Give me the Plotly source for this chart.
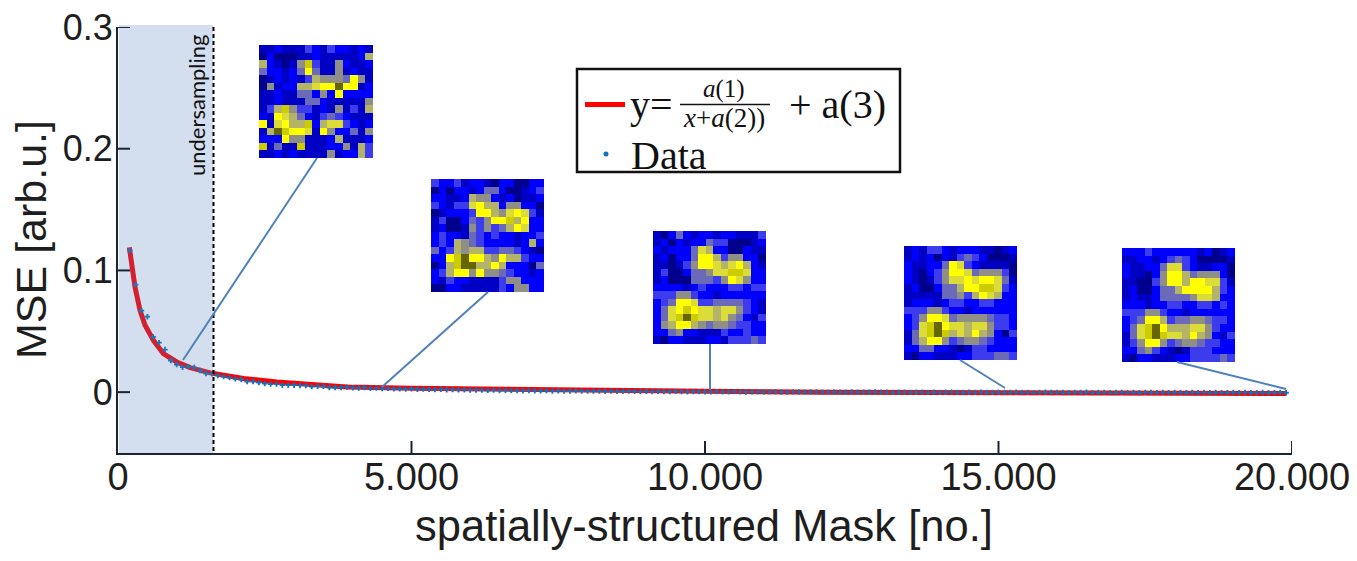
import plotly.graph_objects as go

x_ticks = [0, 5000, 10000, 15000, 20000]
x_tick_labels = ["0", "5.000", "10.000", "15.000", "20.000"]
y_ticks = [0, 0.1, 0.2, 0.3]
y_tick_labels = ["0", "0.1", "0.2", "0.3"]

fit_x = [193, 233, 290, 375, 461, 603, 773, 1001, 1229, 1570, 2138, 2708, 3276, 3902, 5000, 7000, 10000, 12000, 15000, 17500, 19900]
fit_y = [0.119, 0.1027, 0.0863, 0.0672, 0.0549, 0.0426, 0.0317, 0.0248, 0.0202, 0.0158, 0.0112, 0.0084, 0.0063, 0.0043, 0.0033, 0.002, 0.0007, 0.0, -0.0006, -0.0011, -0.0012]

data_x = list(range(200, 20000, 100))
data_y = [
    .1164, .0883, .0670, .0620, .0454, .0407, .0350, .0260, .0227, .0205, .0210, .0202, .0178, .0153, .0150, .0137, .0128, .0120,
    .0109, .0104, .0087, .0087, .0079, .0071, .0066, .0066, .0057, .0057, .0057, .0055, .0055, .0046, .0049, .0049, .0038, .0038, .0038, .0041,
    .0036, .0034, .0038, .0031, .0033, .0029, .0031, .0027, .0028, .0025, .0028, .0024, .0025, .0023, .0021, .0024, .0020, .0021, .0019, .0020, .0018,
    .0018, .0017, .0015, .0017, .0014, .0016, .0013, .0014, .0012, .0014, .0012, .0011, .0013, .0010, .0011, .0010, .0009, .0011, .0009, .0008,
    .0009, .0008, .0007, .0009, .0006, .0007, .0008, .0006, .0005, .0007, .0005, .0006, .0004, .0005, .0006, .0004, .0003, .0005, .0004, .0003,
    .0003, .0004, .0002, .0003, .0004, .0002, .0001, .0003, .0002, .0001, .0002, .0003, .0001, 0, .0002, .0001, 0, .0001, .0002, 0,
    0, .0001, -.0001, 0, .0001, -.0001, 0, -.0001, .0001, -.0001, 0, -.0002, -.0001, 0, -.0002, -.0001, 0, -.0002, -.0001, -.0002,
    -.0001, 0, -.0002, -.0003, -.0001, -.0002, 0, -.0003, -.0002, -.0001, -.0003, -.0002, -.0001, -.0003, -.0002, -.0004, -.0002, -.0001, -.0003, -.0002,
    -.0003, -.0004, -.0002, -.0003, -.0001, -.0004, -.0003, -.0002, -.0004, -.0003, -.0002, -.0004, -.0003, -.0005, -.0002, -.0003, -.0004, -.0002, -.0004, -.0003,
    -.0004, -.0005, -.0003, -.0004, -.0002, -.0005, -.0003, -.0004, -.0005, -.0003, -.0004, -.0002, -.0005, -.0004, -.0003, -.0005, -.0004, -.0003, -.0005,
]

mask_a = [
    [1,1,2,1,1,1,3,2,1,3,2,2,1,2,1],
    [0,2,0,0,0,1,1,2,1,1,1,1,1,2,6],
    [6,2,1,0,1,5,9,3,1,1,5,2,1,1,2],
    [4,2,2,1,2,4,8,4,1,1,5,1,2,1,1],
    [0,1,2,1,2,1,3,6,5,5,5,4,8,5,1],
    [0,5,1,2,2,6,6,7,8,8,10,8,8,1,2],
    [1,1,2,1,1,4,4,2,5,2,8,2,2,2,2],
    [1,1,2,1,1,1,4,4,2,1,1,1,1,1,5],
    [1,3,6,9,5,3,3,1,2,1,5,1,3,1,6],
    [2,1,8,7,6,4,2,1,3,4,3,2,1,1,1],
    [8,1,7,8,6,6,9,2,6,7,7,3,2,1,2],
    [1,6,10,9,8,8,7,1,8,5,2,2,4,1,5],
    [2,2,2,8,5,5,1,1,1,2,6,1,1,1,2],
    [9,1,4,1,1,9,1,1,1,2,2,5,1,6,3],
    [1,1,2,1,2,1,1,1,1,5,1,2,2,6,3],
]
mask_b = [
    [3,2,2,3,1,2,2,1,0,2,2,0,0,2,2],
    [0,2,0,2,2,1,2,4,4,2,0,0,1,2,3],
    [2,2,1,1,2,6,5,5,2,1,2,0,1,1,2],
    [3,2,1,3,3,7,8,6,6,2,5,5,2,2,0],
    [0,1,2,2,2,3,8,8,6,5,7,8,7,3,1],
    [1,3,0,0,2,4,3,5,8,8,9,6,8,2,2],
    [1,2,0,0,1,5,3,5,3,4,6,8,7,2,2],
    [2,3,2,2,1,4,3,2,3,2,2,1,2,2,3],
    [2,3,2,6,5,4,3,2,2,2,2,1,2,6,2],
    [4,2,3,6,5,6,6,3,3,4,4,3,2,1,0],
    [2,2,8,9,10,8,8,6,5,8,6,6,3,2,2],
    [0,2,6,9,10,10,6,6,8,6,2,2,2,0,4],
    [2,3,6,8,8,5,8,5,5,4,3,2,2,1,2],
    [2,1,3,2,2,1,1,1,1,3,5,5,2,2,2],
    [0,0,2,2,1,1,1,1,1,3,2,5,5,2,2],
]
mask_c = [
    [1,0,2,4,2,1,2,2,1,2,2,1,1,1,3],
    [1,2,0,2,1,2,2,4,3,3,0,0,0,1,2],
    [2,1,2,2,2,4,7,6,2,2,0,0,2,1,1],
    [1,2,0,2,2,4,8,8,6,3,5,5,2,2,0],
    [1,1,0,1,3,5,8,8,7,6,7,8,6,2,1],
    [1,3,0,0,2,4,4,5,7,7,9,9,7,2,2],
    [1,2,0,0,0,4,4,4,3,5,8,7,5,2,2],
    [2,2,2,2,1,2,3,2,2,2,3,3,2,3,3],
    [3,3,3,5,5,3,2,2,1,2,2,2,2,2,2],
    [2,3,4,8,8,7,3,3,4,4,4,4,3,2,1],
    [2,4,7,8,9,8,7,7,6,7,7,5,3,2,1],
    [2,4,7,9,10,9,7,7,6,7,5,4,2,1,3],
    [2,5,6,8,8,6,5,4,5,5,4,3,3,2,2],
    [2,2,4,5,2,2,1,1,1,3,2,2,3,2,2],
    [1,0,2,2,1,1,1,2,2,1,3,3,3,4,3],
]
mask_d = [
    [1,2,1,3,3,2,1,2,2,2,1,1,0,1,2],
    [1,2,1,2,0,2,1,3,4,3,2,0,0,0,1],
    [2,1,1,2,2,4,8,7,3,2,1,1,1,1,0],
    [2,1,0,2,3,5,8,8,7,4,5,5,5,3,0],
    [2,1,0,1,3,5,7,7,8,7,8,8,7,4,1],
    [1,2,0,0,2,4,4,6,8,8,9,9,7,3,2],
    [1,1,1,1,1,4,4,5,3,6,8,7,6,2,2],
    [1,2,2,2,1,2,3,3,2,2,3,3,2,2,2],
    [3,3,3,5,5,3,2,2,1,2,2,2,2,2,2],
    [2,3,5,8,8,7,4,5,5,5,5,4,3,3,2],
    [2,3,7,9,10,8,7,7,6,7,7,5,3,3,2],
    [1,4,7,9,10,9,6,7,6,8,6,5,2,0,3],
    [1,4,6,8,8,5,3,4,5,5,4,3,2,2,2],
    [2,2,4,4,2,2,1,0,1,3,3,2,2,2,2],
    [1,0,2,2,1,1,1,2,2,3,3,3,4,4,3],
]
mask_e = [
    [2,2,2,3,2,2,2,2,2,2,1,2,0,1,2],
    [1,1,2,2,1,2,3,4,3,2,0,0,0,0,1],
    [2,1,1,2,2,4,7,7,3,2,1,1,2,2,0],
    [2,1,1,0,2,5,8,8,6,4,5,5,5,2,0],
    [1,1,0,0,3,5,8,8,6,8,8,7,7,3,1],
    [1,2,0,0,2,4,4,6,8,8,8,8,6,3,2],
    [1,2,1,1,2,4,4,4,4,5,7,7,6,2,2],
    [2,2,2,1,2,2,3,3,2,2,3,3,2,3,2],
    [3,3,3,5,5,3,2,2,1,2,2,2,2,2,2],
    [2,3,4,8,8,6,3,4,4,5,5,4,3,3,2],
    [2,4,7,9,10,8,6,6,6,7,7,5,3,2,2],
    [1,4,7,9,10,9,7,7,6,8,6,5,2,1,3],
    [1,3,5,8,8,5,3,4,5,5,4,3,3,2,2],
    [2,2,4,5,3,2,1,0,1,3,3,3,2,2,2],
    [1,0,2,2,1,1,1,2,2,3,3,3,3,4,3],
]
masks = [mask_a, mask_b, mask_c, mask_d, mask_e]

W, H = 1357, 561
L, R, T, B = 118, 1292, 27, 453
OFF = 8  # default page margin of the browser
TICK = 12
def px(v): return (v - L) / (R - L)
def py(v): return (B - v) / (B - T)

colors = ["#00008c", "#0000c4", "#0000ff", "#3c3cee", "#6a6ab8", "#8f8f88",
          "#b4b468", "#dcdc38", "#ffff00", "#cccc00", "#666600"]
colorscale = [[i / 10, c] for i, c in enumerate(colors)]

inset_boxes = [(259, 373, 45, 158), (431, 544, 179, 292), (653, 766, 231, 344),
               (904, 1017, 246, 360), (1122, 1235, 248, 362)]
connectors = [(317, 158, 183, 360), (488, 292, 382, 387), (710, 344, 710, 390),
              (960, 360, 1005, 388), (1177, 362, 1286, 389)]

INK = "#1e1e1e"
AXIS = "#1a2433"
fig = go.Figure()
fig.add_trace(go.Scatter(x=fit_x, y=fit_y, mode="lines", line=dict(color="#ff0000", width=5), showlegend=False))
fig.add_trace(go.Scatter(x=data_x, y=data_y, mode="markers",
                         marker=dict(color="#0f72ba", size=4.5, symbol="cross", line_width=0), showlegend=False))

layout_axes = {}
for i, (m, (x0, x1, y0, y1)) in enumerate(zip(masks, inset_boxes), start=2):
    fig.add_trace(go.Heatmap(z=m, zmin=0, zmax=10, colorscale=colorscale, showscale=False,
                             xaxis=f"x{i}", yaxis=f"y{i}", hoverinfo="skip"))
    layout_axes[f"xaxis{i}"] = dict(domain=[px(x0), px(x1)], visible=False, anchor=f"y{i}")
    layout_axes[f"yaxis{i}"] = dict(domain=[py(y1), py(y0)], visible=False, autorange="reversed", anchor=f"x{i}")

shapes = [
    dict(type="rect", xref="paper", yref="paper", x0=px(119), x1=px(213), y0=py(25), y1=py(453),
         fillcolor="rgba(79,129,189,0.25)", line_width=0, layer="above"),
    dict(type="line", xref="paper", yref="paper", x0=px(213.5), x1=px(213.5), y0=py(27), y1=py(453),
         line=dict(color="#000000", width=2, dash="4px,3px"), layer="above"),
]
for v in x_ticks[1:]:
    shapes.append(dict(type="line", xref="x", yref="paper", x0=v, x1=v, y0=0, y1=TICK / (B - T),
                       line=dict(color=AXIS, width=2), layer="above"))
for v in y_ticks:
    shapes.append(dict(type="line", xref="paper", yref="y", x0=0, x1=TICK / (R - L), y0=v, y1=v,
                       line=dict(color=AXIS, width=2), layer="above"))
for (a, b, c, d) in connectors:
    shapes.append(dict(type="line", xref="paper", yref="paper", x0=px(a), y0=py(b), x1=px(c), y1=py(d),
                       line=dict(color="#4f81bd", width=2), layer="above"))
shapes += [
    dict(type="rect", xref="paper", yref="paper", x0=px(577), x1=px(900), y0=py(69), y1=py(172),
         fillcolor="#ffffff", line=dict(color="#111111", width=2.5), layer="above"),
    dict(type="line", xref="paper", yref="paper", x0=px(585), x1=px(625), y0=py(104.5), y1=py(104.5),
         line=dict(color="#ff0000", width=5), layer="above"),
    dict(type="line", xref="paper", yref="paper", x0=px(680), x1=px(770), y0=py(104.5), y1=py(104.5),
         line=dict(color="#111111", width=1.5), layer="above"),
    dict(type="circle", xref="paper", yref="paper", x0=px(603.5), x1=px(608.5), y0=py(151.5), y1=py(156.5),
         fillcolor="#0f72ba", line_width=0, layer="above"),
]

def txt(text, x, y, size, font="Liberation Serif", color="#111111", anchor="left", angle=0):
    return dict(text=text, xref="paper", yref="paper", x=px(x), y=py(y), showarrow=False,
                xanchor=anchor, yanchor="middle", textangle=angle,
                font=dict(family=font, size=size, color=color))

annotations = [
    txt("y=", 628, 105, 40),
    txt("<i>a</i>(1)", 724, 89, 25, anchor="center"),
    txt("<i>x</i>+<i>a</i>(2))", 724, 118, 27, anchor="center"),
    txt("+ a(3)", 787, 105, 40),
    txt("Data", 629, 155, 40),
    txt("undersampling", 197, 105, 22, font="Lato", anchor="center", angle=-90),
    txt("MSE [arb.u.]", 31, 240, 43, font="Liberation Sans", color=INK, anchor="center", angle=-90),
    txt("spatially-structured Mask [no.]", 704, 526, 43.5, font="Liberation Sans", color=INK, anchor="center"),
]

fig.update_layout(
    width=W - OFF, height=H - 2 * OFF,
    margin=dict(l=L - OFF, r=W - R, t=T - OFF, b=H - OFF - B),
    paper_bgcolor="#ffffff", plot_bgcolor="#ffffff", showlegend=False,
    xaxis=dict(range=[0, 20000], tickvals=x_ticks, ticktext=x_tick_labels, showgrid=False, zeroline=False,
               showline=True, linecolor=AXIS, linewidth=2, ticks="", automargin=False,
               ticklabeloverflow="allow", ticklabelstandoff=-11,
               tickfont=dict(family="Liberation Sans", size=38, color=INK)),
    yaxis=dict(range=[-0.05, 0.3], tickvals=y_ticks, ticktext=y_tick_labels, showgrid=False, zeroline=False,
               showline=True, linecolor=AXIS, linewidth=2, ticks="", automargin=False,
               ticklabeloverflow="allow", ticklabelstandoff=-4,
               tickfont=dict(family="Liberation Sans", size=36, color=INK)),
    shapes=shapes, annotations=annotations, **layout_axes,
)
fig.write_html("out.html")
